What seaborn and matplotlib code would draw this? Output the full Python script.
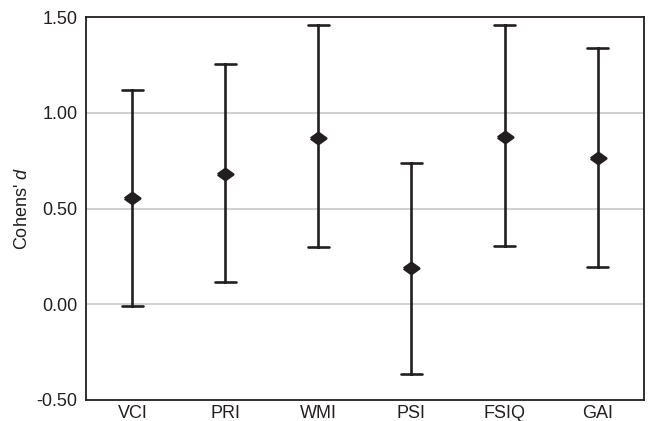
import pandas as pd
import matplotlib
import matplotlib.pyplot as plt
import seaborn as sns

# effect sizes with 95% CI
indices = ['VCI', 'PRI', 'WMI', 'PSI', 'FSIQ', 'GAI']
d_values = [0.557, 0.682, 0.870, 0.188, 0.875, 0.766]
ci_lower = [-0.009, 0.116, 0.299, -0.365, 0.305, 0.196]
ci_upper = [1.118, 1.255, 1.458, 0.738, 1.458, 1.340]

yticks = [-0.5, 0.0, 0.5, 1.0, 1.5]

if __name__ == "__main__":
    sns.set_style("white")
    matplotlib.rcParams['font.family'] = ['Liberation Sans', 'DejaVu Sans']
    matplotlib.rcParams['axes.unicode_minus'] = False
    matplotlib.rcParams['mathtext.fontset'] = 'custom'
    matplotlib.rcParams['mathtext.it'] = 'Liberation Sans:italic'
    matplotlib.rcParams['mathtext.rm'] = 'Liberation Sans'

    # long form: lower / estimate / upper per index, median = estimate, range = CI
    rows = []
    for name, lo, d, hi in zip(indices, ci_lower, d_values, ci_upper):
        for v in (lo, d, hi):
            rows.append({'index': name, 'd': v})
    df = pd.DataFrame(rows)

    ink = '#231f20'
    diamond = [(-1, 0), (0, 0.72), (1, 0), (0, -0.72), (-1, 0)]

    fig = plt.figure(figsize=(6.49, 4.21), dpi=100)
    ax = fig.add_axes([0.1325, 0.0499, 0.8598, 0.9097])

    for y in [0.0, 0.5, 1.0]:
        ax.axhline(y, color='#c8c8c8', lw=1.2, zorder=0)

    sns.pointplot(
        data=df, x='index', y='d', order=indices,
        estimator='median', errorbar=lambda x: (x.min(), x.max()),
        linestyle='none', marker=diamond, markersize=11,
        color=ink, capsize=0.22,
        err_kws={'linewidth': 1.9},
        ax=ax,
    )

    ax.set_xlim(-0.5, 5.5)
    ax.set_ylim(-0.5, 1.5)
    ax.set_yticks(yticks)
    ax.set_yticklabels([f"{t:.2f}" for t in yticks])
    ax.set_xlabel("")
    ax.set_ylabel("Cohens' $d$", fontsize=13, color=ink, labelpad=4)
    ax.tick_params(axis='both', length=0, labelsize=13, colors=ink)
    ax.tick_params(axis='y', pad=6)
    ax.tick_params(axis='x', pad=3.5)
    for sp in ax.spines.values():
        sp.set_color(ink)
        sp.set_linewidth(1.3)

    plt.savefig("out.png", dpi=100)
